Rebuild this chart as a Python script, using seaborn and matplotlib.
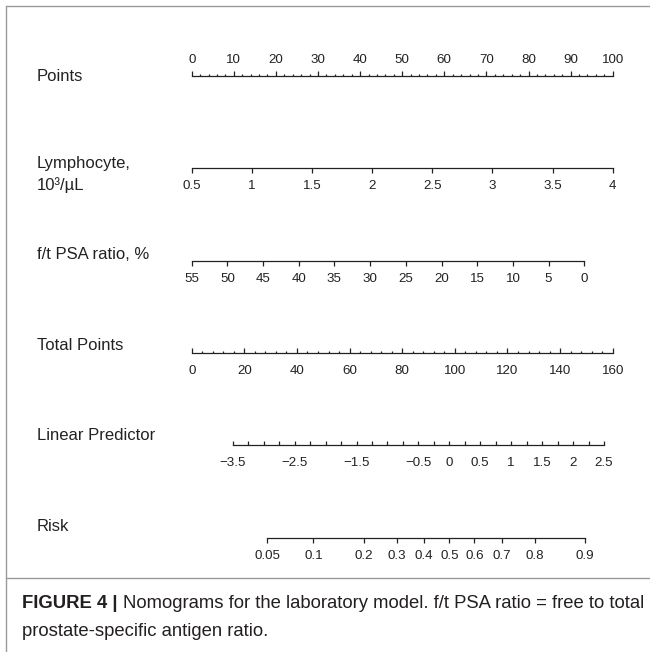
import numpy as np
import matplotlib.pyplot as plt
import seaborn as sns

# ── DATA ─────────────────────────────────────────────────────────
points_ticks = [0, 10, 20, 30, 40, 50, 60, 70, 80, 90, 100]
lymph_ticks = [0.5, 1, 1.5, 2, 2.5, 3, 3.5, 4]
lymph_labels = ["0.5", "1", "1.5", "2", "2.5", "3", "3.5", "4"]
psa_ticks = [55, 50, 45, 40, 35, 30, 25, 20, 15, 10, 5, 0]
total_ticks = [0, 20, 40, 60, 80, 100, 120, 140, 160]
lp_ticks = [-3.5, -2.5, -1.5, -0.5, 0, 0.5, 1, 1.5, 2, 2.5]
lp_labels = ["\u22123.5", "\u22122.5", "\u22121.5", "\u22120.5", "0", "0.5", "1", "1.5", "2", "2.5"]
risk_ticks = [0.05, 0.1, 0.2, 0.3, 0.4, 0.5, 0.6, 0.7, 0.8, 0.9]
risk_labels = ["0.05", "0.1", "0.2", "0.3", "0.4", "0.5", "0.6", "0.7", "0.8", "0.9"]

psa_max_points = 93.25          # points given at f/t PSA = 0
lp_range = (-3.5, 2.5)
lp_total_range = (15.6, 156.7)  # total points at LP -3.5 and 2.5


# value -> points scale (0..100) for each row
def lymph_pts(v):
    return (np.asarray(v) - 0.5) / 3.5 * 100


def psa_pts(v):
    return (55 - np.asarray(v)) / 55 * psa_max_points


def total_pts(v):
    return np.asarray(v) / 160 * 100


def lp_pts(v):
    t = lp_total_range[0] + (np.asarray(v) - lp_range[0]) / (lp_range[1] - lp_range[0]) * (
        lp_total_range[1] - lp_total_range[0])
    return total_pts(t)


def risk_pts(p):
    p = np.asarray(p)
    return lp_pts(np.log(p / (1 - p)))


sns.set_theme(style="white")
plt.rcParams["font.family"] = ["Liberation Sans", "DejaVu Sans"]

W, H = 650, 652
fig = plt.figure(figsize=(W / 100, H / 100), dpi=100)

X0, X1 = 191.7, 612.7
INK = "#222222"
LW = 0.9
TICK_FS = 9.6
LABEL_FS = 12


def make_row(y_px, side="bottom"):
    h = 0.002
    if side == "top":
        ax = fig.add_axes([X0 / W, 1 - y_px / H - h, (X1 - X0) / W, h])
    else:
        ax = fig.add_axes([X0 / W, 1 - y_px / H, (X1 - X0) / W, h])
    ax.set_xlim(0, 100)
    ax.set_ylim(0, 1)
    ax.set_yticks([])
    ax.patch.set_alpha(0)
    for s in ["top", "bottom", "left", "right"]:
        ax.spines[s].set_visible(s == side)
    ax.spines[side].set_color(INK)
    ax.spines[side].set_linewidth(LW)
    return ax


def style_ticks(ax, side, direction, pad, major_len=3.3, minor_len=1.6):
    ax.tick_params(axis="x", which="major", direction=direction, length=major_len, width=LW,
                   color=INK, labelsize=TICK_FS, labelcolor=INK, pad=pad,
                   top=(side == "top"), bottom=(side == "bottom"),
                   labeltop=(side == "top"), labelbottom=(side == "bottom"))
    ax.tick_params(axis="x", which="minor", direction=direction, length=minor_len, width=LW,
                   color=INK, top=(side == "top"), bottom=(side == "bottom"))


# Points
ax = make_row(75.7, "top")
ax.set_xticks(points_ticks)
ax.set_xticklabels([str(v) for v in points_ticks])
ax.set_xticks(np.arange(0, 101, 2), minor=True)
ax.spines["top"].set_bounds(0, 100)
style_ticks(ax, "top", "out", 3.4)

# Lymphocyte
ax = make_row(168.3)
ax.set_xticks(lymph_pts(lymph_ticks))
ax.set_xticklabels(lymph_labels)
ax.spines["bottom"].set_bounds(lymph_pts(0.5), lymph_pts(4))
style_ticks(ax, "bottom", "out", 4.8)

# f/t PSA ratio
ax = make_row(261.0)
ax.set_xticks(psa_pts(psa_ticks))
ax.set_xticklabels([str(v) for v in psa_ticks])
ax.spines["bottom"].set_bounds(psa_pts(55), psa_pts(0))
style_ticks(ax, "bottom", "out", 5.0)

# Total Points
ax = make_row(353.3)
ax.set_xticks(total_pts(total_ticks))
ax.set_xticklabels([str(v) for v in total_ticks])
ax.set_xticks(total_pts(np.arange(0, 161, 4)), minor=True)
ax.spines["bottom"].set_bounds(0, 100)
style_ticks(ax, "bottom", "in", 8.2)

# Linear Predictor
ax = make_row(445.0)
lp_all = np.arange(-3.5, 2.51, 0.25)
lp_text = [lp_labels[lp_ticks.index(v)] if v in lp_ticks else "" for v in np.round(lp_all, 2)]
ax.set_xticks(lp_pts(lp_all))
ax.set_xticklabels(lp_text)
ax.spines["bottom"].set_bounds(lp_pts(-3.5), lp_pts(2.5))
style_ticks(ax, "bottom", "in", 9.0, major_len=2.6)

# Risk
ax = make_row(538.3)
ax.set_xticks(risk_pts(risk_ticks))
ax.set_xticklabels(risk_labels)
ax.spines["bottom"].set_bounds(risk_pts(0.05), risk_pts(0.9))
style_ticks(ax, "bottom", "out", 5.0)

# row labels
row_labels = [("Points", 76.5), ("Lymphocyte,", 163.5), ("10\u00b3/\u00b5L", 185.5),
              ("f/t PSA ratio, %", 254.5), ("Total Points", 345.5),
              ("Linear Predictor", 435.5), ("Risk", 526.5)]
for txt, y in row_labels:
    fig.text(37 / W, 1 - y / H, txt, fontsize=LABEL_FS, color=INK, ha="left", va="center")

# frame lines
frame = "#9a9a9a"
fig.add_artist(plt.Line2D([6 / W, 1], [1 - 6 / H, 1 - 6 / H], color=frame, lw=1.0))
fig.add_artist(plt.Line2D([6 / W, 6 / W], [0, 1 - 6 / H], color=frame, lw=1.0))
fig.add_artist(plt.Line2D([6 / W, 1], [1 - 578 / H, 1 - 578 / H], color=frame, lw=1.0))

# caption
cap_color = "#231f20"
bold_part = "FIGURE 4 | "
line1 = "Nomograms for the laboratory model. f/t PSA ratio = free to total"
line2 = "prostate-specific antigen ratio."
cap_fs = 12
renderer = fig.canvas.get_renderer()
tb = fig.text(22 / W, 1 - 603 / H, bold_part, fontsize=cap_fs, fontweight="bold",
              color=cap_color, va="center", ha="left")
bw = tb.get_window_extent(renderer).width
t1 = fig.text((22 + bw) / W, 1 - 603 / H, line1, fontsize=cap_fs, color=cap_color,
              va="center", ha="left")
total_w = bw + t1.get_window_extent(renderer).width
scale = (647 - 22) / total_w
cap_fs = cap_fs * scale
tb.set_fontsize(cap_fs)
bw = tb.get_window_extent(renderer).width
t1.set_fontsize(cap_fs)
t1.set_x((22 + bw) / W)
fig.text(22 / W, 1 - 631 / H, line2, fontsize=cap_fs, color=cap_color, va="center", ha="left")

fig.savefig("out.png", dpi=100, facecolor="white")
